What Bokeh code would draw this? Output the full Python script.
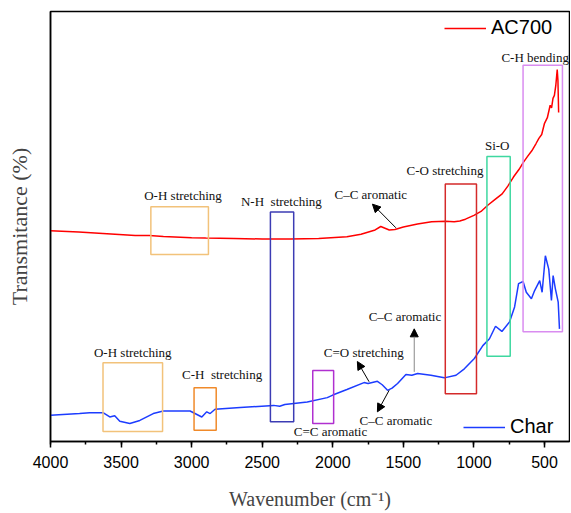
from bokeh.plotting import figure
from bokeh.models import (Range1d, SingleIntervalTicker, FixedTicker, BoxAnnotation, Label,
                          Arrow, NormalHead, Legend, LegendItem)
from bokeh.embed import file_html
from bokeh.resources import INLINE

# ---------------- data ----------------
wn_ac700 = [4000, 3800, 3600, 3400, 3300, 3200, 3000, 2900, 2700, 2500, 2300, 2100, 1900, 1800,
            1700, 1660, 1630, 1600, 1560, 1500, 1400, 1300, 1200, 1140, 1100, 1060, 1000, 950,
            900, 850, 800, 760, 720, 680, 650, 620, 590, 560, 540, 520, 500, 480, 460, 450,
            440, 430, 420, 410, 405, 400]
t_ac700 = [49.0, 48.7, 48.3, 47.9, 47.9, 47.7, 47.4, 47.3, 47.2, 47.1, 47.1, 47.2, 47.6, 48.2,
           49.2, 50.0, 49.6, 49.2, 49.3, 49.9, 50.6, 51.1, 51.2, 51.1, 51.3, 51.7, 52.6, 53.5,
           55.0, 56.3, 57.6, 59.4, 61.5, 63.3, 64.9, 66.3, 67.6, 69.3, 70.5, 71.4, 74.0, 75.3,
           78.2, 77.6, 79.8, 80.5, 82.8, 86.5, 84.0, 76.5]

wn_char = [4000, 3794, 3723, 3628, 3580, 3545, 3509, 3438, 3367, 3272, 3201, 3011, 2928, 2893,
           2869, 2834, 2656, 2419, 2376, 2340, 2181, 2039, 2000, 1900, 1779, 1750, 1684, 1650,
           1612, 1580, 1541, 1482, 1440, 1399, 1305, 1210, 1127, 1068, 997, 937, 890, 847, 802,
           748, 712, 684, 652, 629, 593, 570, 534, 517, 494, 470, 451, 439, 423, 403, 394]
t_char = [6.1, 6.5, 6.7, 6.7, 5.7, 6.0, 4.7, 4.2, 4.9, 6.5, 7.1, 7.1, 5.7, 6.9,
          6.5, 7.5, 7.9, 8.4, 8.2, 8.6, 9.2, 10.2, 10.8, 12.1, 13.7, 13.5, 14.0, 13.2,
          11.9, 12.4, 13.5, 15.6, 15.4, 15.8, 15.4, 14.8, 15.4, 16.9, 19.3, 22.3, 23.9, 26.8, 25.6,
          27.8, 31.3, 36.7, 37.2, 34.7, 33.2, 35.1, 37.4, 34.7, 43.2, 40.1, 32.8, 38.6, 35.5, 32.4, 26.2]

tick_interval = 500

# band boxes: (left wn, right wn, bottom, top, colour)
boxes = [
    (3289, 2881, 43.5, 54.6, "#f2c27a"),   # O-H stretching (AC700)
    (2442, 2277, 4.6, 53.4, "#3c3cb4"),    # N-H stretching
    (1203, 982, 11.1, 59.9, "#d42a2a"),    # C-O stretching
    (908, 743, 19.8, 66.3, "#3ed8a0"),     # Si-O
    (652, 373, 25.5, 87.5, "#d98cf0"),     # C-H bending
    (3628, 3206, 2.3, 18.3, "#f2c27a"),    # O-H stretching (Char)
    (2983, 2826, 2.6, 12.5, "#f08a2a"),    # C-H stretching
    (2142, 1994, 4.2, 16.5, "#b030d0"),    # C=C aromatic
]

# annotation texts: (text, wn, y)
notes = [
    ("O-H stretching", 3061, 57.3),
    ("N-H\u00a0 stretching", 2364, 55.7),
    ("C\u2013C aromatic", 1731, 57.5),
    ("C-O stretching", 1205, 63.1),
    ("Si-O", 835, 68.9),
    ("C-H bending", 566, 89.4),
    ("O-H stretching", 3417, 20.6),
    ("C-H\u00a0 stretching", 2784, 15.6),
    ("C=C aromatic", 2016, 2.3),
    ("C=O stretching", 1781, 20.8),
    ("C\u2013C aromatic", 1489, 29.1),
    ("C\u2013C aromatic", 1553, 4.9),
]

# arrows: (x_start, y_start, x_end, y_end, line colour)
arrows = [
    (1553, 49.7, 1719, 55.2, "black"),
    (1743, 13.9, 1826, 18.6, "black"),
    (1423, 16.2, 1423, 26.2, "#888888"),
    (1601, 11.9, 1684, 6.9, "black"),
]

# ---------------- figure ----------------
p = figure(width=570, height=513, min_border_left=50, min_border_right=1,
           min_border_top=11, min_border_bottom=72,
           x_range=Range1d(4000, 323), y_range=Range1d(0, 100),
           output_backend="svg", toolbar_location=None)
p.background_fill_color = "white"
p.border_fill_color = "white"
p.outline_line_color = "black"
p.outline_line_width = 1.5
p.xgrid.visible = False
p.ygrid.visible = False

p.xaxis.ticker = SingleIntervalTicker(interval=tick_interval, num_minor_ticks=2)
p.xaxis.axis_label = "Wavenumber (cm\u207b\u00b9)"
p.xaxis.axis_label_text_font = "Liberation Serif"
p.xaxis.axis_label_text_font_size = "20px"
p.xaxis.axis_label_text_font_style = "normal"
p.xaxis.axis_label_standoff = 17
p.xaxis.major_label_text_font = "Liberation Sans"
p.xaxis.major_label_text_font_size = "16px"
p.xaxis.major_label_text_color = "black"
p.xaxis.major_label_standoff = 8
p.xaxis.major_tick_out = 6
p.xaxis.major_tick_in = 0
p.xaxis.minor_tick_out = 3
p.xaxis.minor_tick_in = 0
p.xaxis.major_tick_line_width = 1.5
p.xaxis.minor_tick_line_width = 1.5
p.xaxis.axis_line_width = 1.5
p.xaxis.axis_line_color = "black"
p.xaxis.major_tick_line_color = "black"
p.xaxis.minor_tick_line_color = "black"

p.yaxis.ticker = FixedTicker(ticks=[])
p.yaxis.axis_label = "Transmitance (%)"
p.yaxis.axis_label_text_font = "Liberation Serif"
p.yaxis.axis_label_text_font_size = "22px"
p.yaxis.axis_label_text_font_style = "normal"
p.yaxis.axis_label_standoff = 19
p.yaxis.axis_line_width = 1.5
p.yaxis.axis_line_color = "black"

for l, r, b, t, c in boxes:
    p.add_layout(BoxAnnotation(left=l, right=r, bottom=b, top=t, fill_color=None,
                               fill_alpha=0, line_color=c, line_alpha=1.0, line_width=1.5))

r_ac = p.line(wn_ac700, t_ac700, line_color="#ff0000", line_width=1.5)
r_ch = p.line(wn_char, t_char, line_color="#1c3cff", line_width=1.5)

for txt, x, y in notes:
    p.add_layout(Label(x=x, y=y, text=txt, text_font="Liberation Serif", text_font_size="13px",
                       text_align="center", text_baseline="middle", text_color="#111111"))

for xs, ys, xe, ye, c in arrows:
    p.add_layout(Arrow(x_start=xs, y_start=ys, x_end=xe, y_end=ye, line_color=c, line_width=1,
                       end=NormalHead(size=8, fill_color="black", line_color="black")))

def make_legend(label, rend, loc):
    lg = Legend(items=[LegendItem(label=label, renderers=[rend])], location=loc,
                padding=0, margin=0, spacing=0, glyph_width=42, glyph_height=20,
                label_height=20, label_standoff=5, label_text_font="Liberation Sans",
                label_text_font_size="20px", label_text_color="black",
                border_line_color=None, background_fill_alpha=0)
    return lg

p.add_layout(make_legend("AC700", r_ac, (394, 402)))
p.add_layout(make_legend("Char", r_ch, (413, 3)))

open("out.html", "w").write(file_html(p, INLINE))
